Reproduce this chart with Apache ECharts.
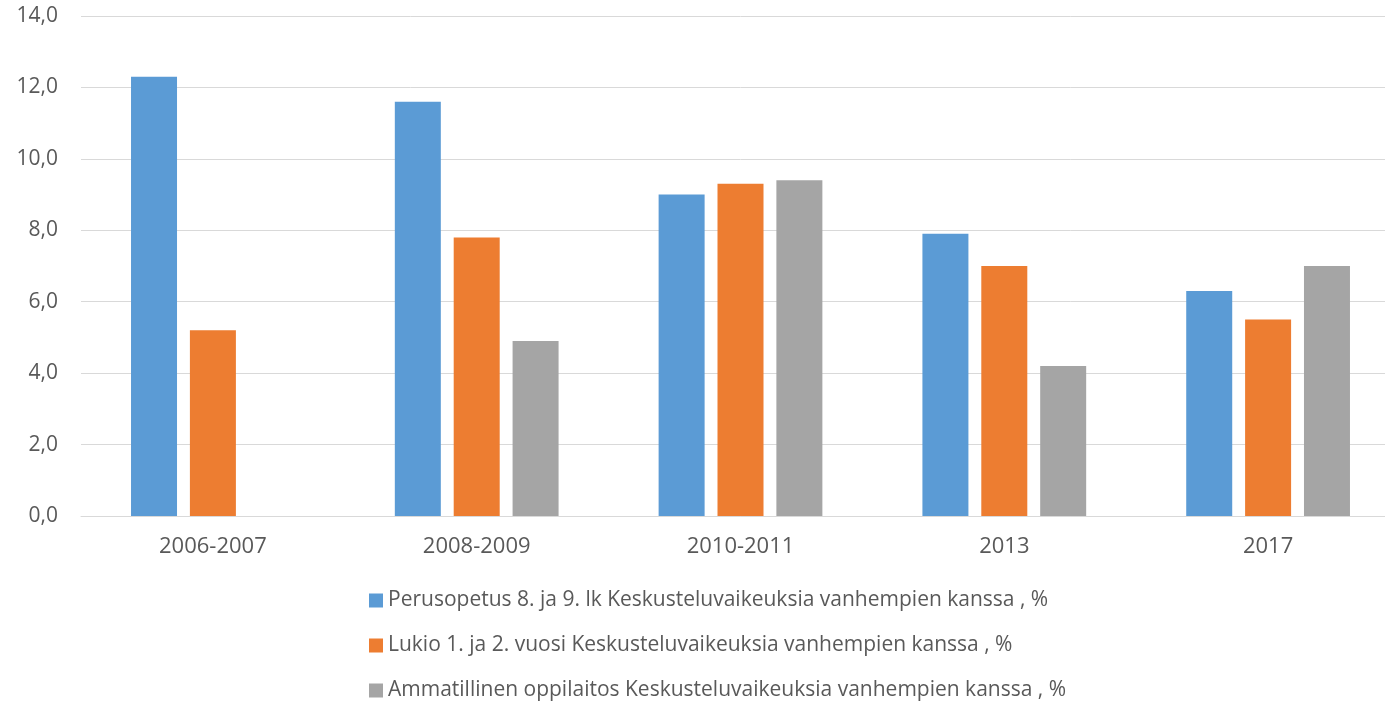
<!DOCTYPE html>
<html>
<head>
<meta charset="utf-8">
<script src="https://cdn.jsdelivr.net/npm/echarts@6/dist/echarts.min.js"></script>
<style>
  html, body { margin: 0; padding: 0; background: #fff; overflow: hidden; }
  #main { width: 1400px; height: 704px; }
</style>
</head>
<body>
<div id="main"></div>
<script>
var categories = ['2006-2007', '2008-2009', '2010-2011', '2013', '2017'];
var perusopetus = [12.3, 11.6, 9.0, 7.9, 6.3];
var lukio = [5.2, 7.8, 9.3, 7.0, 5.5];
var ammatillinen = [null, 4.9, 9.4, 4.2, 7.0];
var seriesNames = [
    'Perusopetus 8. ja 9. lk Keskusteluvaikeuksia vanhempien kanssa , %',
    'Lukio 1. ja 2. vuosi Keskusteluvaikeuksia vanhempien kanssa , %',
    'Ammatillinen oppilaitos Keskusteluvaikeuksia vanhempien kanssa , %'
];
var colors = ['#5B9BD5', '#ED7D31', '#A5A5A5'];

var chart = echarts.init(document.getElementById('main'));

function bar(name, data, color) {
    return {
        name: name,
        type: 'bar',
        data: data,
        barWidth: 46,
        barGap: '28%',
        itemStyle: { color: color }
    };
}

var option = {
    animation: false,
    textStyle: { fontFamily: 'Open Sans', color: '#595959' },
    color: colors,
    grid: {
        left: 81,
        right: 0,
        top: 16,
        bottom: 188
    },
    legend: {
        orient: 'vertical',
        left: 369,
        top: 590,
        padding: 0,
        itemWidth: 14,
        itemHeight: 14,
        itemGap: 24,
        icon: 'rect',
        textStyle: { fontSize: 21, lineHeight: 21, color: '#595959', fontFamily: 'Open Sans' },
        data: seriesNames
    },
    xAxis: {
        type: 'category',
        data: categories,
        axisLine: { lineStyle: { color: '#D9D9D9', width: 1 } },
        axisTick: { show: false },
        axisLabel: { fontSize: 22, color: '#595959', margin: 20 }
    },
    yAxis: {
        type: 'value',
        min: 0,
        max: 14,
        interval: 2,
        axisLine: { show: false },
        axisTick: { show: false },
        splitLine: { lineStyle: { color: '#D9D9D9', width: 1 } },
        axisLabel: {
            fontSize: 21,
            color: '#595959',
            margin: 23,
            formatter: function (v) { return v.toFixed(1).replace('.', ','); }
        }
    },
    series: [
        bar(seriesNames[0], perusopetus, colors[0]),
        bar(seriesNames[1], lukio, colors[1]),
        bar(seriesNames[2], ammatillinen, colors[2])
    ]
};

chart.setOption(option);
</script>
</body>
</html>
